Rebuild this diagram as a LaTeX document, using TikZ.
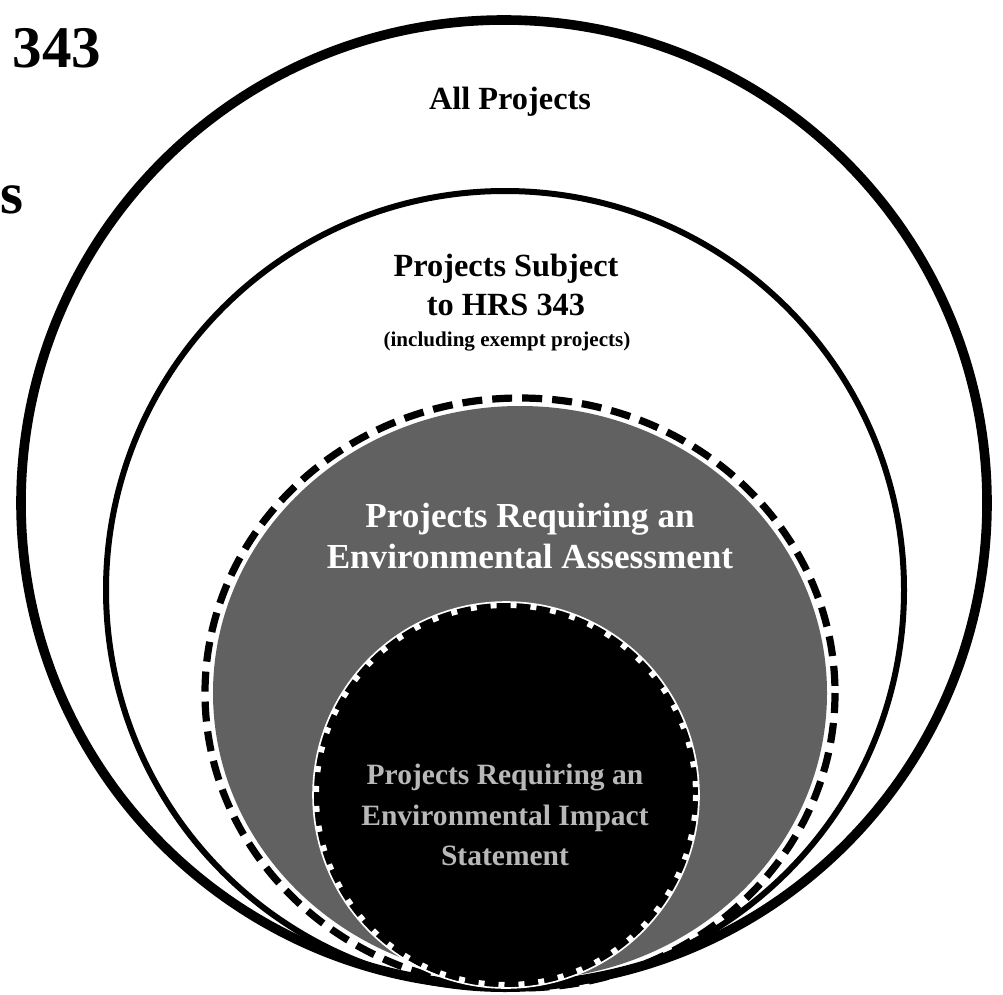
\documentclass[tikz,border=0pt]{standalone}
\usepackage{fontspec}
\setmainfont{Liberation Serif}
\usetikzlibrary{positioning}
\begin{document}
\begin{tikzpicture}[x=0.25mm, y=-0.25mm,
    bigtext/.style={font=\bfseries\fontsize{23}{28}\selectfont, align=center, inner sep=0pt},
    smalltext/.style={font=\bfseries\fontsize{15}{18}\selectfont, inner sep=0pt},
    whitetext/.style={font=\bfseries\fontsize{25}{28.5}\selectfont, align=center, inner sep=0pt, text=white},
    fainttext/.style={font=\bfseries\fontsize{21}{28.7}\selectfont, align=center, inner sep=0pt, text=white!72!black}]
  \useasboundingbox (0,0) rectangle (1003,995);
  % rings
  \draw[line width=2.4mm] (504,503) circle [radius=483];
  \draw[line width=1.5mm] (505,590) circle [radius=399];
  \fill[black!62] (520,693) ellipse [x radius=307, y radius=287];
  \draw[line width=1.8mm, dash pattern=on 5mm off 2.5mm] (520,693) ellipse [x radius=315, y radius=295];
  \fill[black] (506,795) circle [radius=192];
  \draw[white, line width=0.4mm] (506,795) circle [radius=193];
  \draw[white, line width=1.5mm, dash pattern=on 1.5mm off 3.5mm] (506,795) circle [radius=190];
  % labels
  \node (num) [font=\bfseries\fontsize{42}{44}\selectfont, inner sep=0pt] at (57,48) {343};
  \node (cut) [font=\bfseries\fontsize{42}{44}\selectfont, inner sep=0pt, anchor=east] at (24,200) {es};
  \node (all) [bigtext] at (510,102) {All Projects};
  \node (hrs) [bigtext] at (506,285) {Projects Subject\\to HRS 343};
  \node (exempt) [smalltext] at (507,342) {(including exempt projects)};
  \node (ea) [whitetext] at (530,536) {Projects Requiring an\\Environmental Assessment};
  \node (eis) [fainttext] at (505,815) {Projects Requiring an\\Environmental Impact\\Statement};
\end{tikzpicture}
\end{document}
